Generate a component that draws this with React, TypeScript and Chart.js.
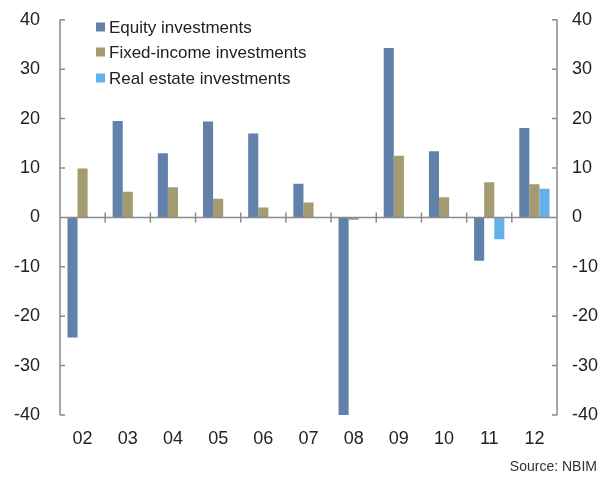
import React, { useEffect, useRef } from "react";
import { Chart, registerables } from "chart.js";

Chart.register(...registerables);

const years = ["02", "03", "04", "05", "06", "07", "08", "09", "10", "11", "12"];
const equity = [-24.3, 19.5, 13.0, 19.4, 17.0, 6.8, -40.7, 34.3, 13.4, -8.8, 18.1];
const fixedIncome = [9.9, 5.2, 6.1, 3.8, 2.0, 3.0, -0.5, 12.5, 4.1, 7.1, 6.7];
const realEstate: (number | null)[] = [null, null, null, null, null, null, null, null, null, -4.4, 5.8];
const seriesNames = ["Equity investments", "Fixed-income investments", "Real estate investments"];
const seriesColors = ["#6281AA", "#A59B70", "#63B1EA"];
const sourceText = "Source: NBIM";

const FONT = "'Liberation Sans', Arial, sans-serif";
const AXIS = "#8a8a8a";
const SHIFT = 11;

const axesPlugin = {
  id: "customAxes",
  afterDatasetsDraw(chart: any) {
    const { ctx, chartArea } = chart;
    const { left, right, top, bottom } = chartArea;
    const y = chart.scales.y;
    ctx.save();
    ctx.strokeStyle = AXIS;
    ctx.lineWidth = 1.5;
    ctx.beginPath();
    ctx.moveTo(left, top);
    ctx.lineTo(left, bottom);
    ctx.moveTo(right, top);
    ctx.lineTo(right, bottom);
    for (let v = -40; v <= 40; v += 10) {
      const py = y.getPixelForValue(v);
      ctx.moveTo(left, py);
      ctx.lineTo(left + 5, py);
      ctx.moveTo(right - 5, py);
      ctx.lineTo(right, py);
    }
    const y0 = y.getPixelForValue(0);
    ctx.moveTo(left, y0);
    ctx.lineTo(right, y0);
    const n = years.length;
    const w = (right - left) / n;
    for (let i = 1; i < n; i++) {
      const px = left + i * w;
      ctx.moveTo(px, y0 - 5);
      ctx.lineTo(px, y0 + 5);
    }
    ctx.stroke();

    // legend
    ctx.font = `17px ${FONT}`;
    ctx.textBaseline = "middle";
    ctx.textAlign = "left";
    const ly = [27, 52, 78];
    seriesNames.forEach((name, i) => {
      ctx.fillStyle = seriesColors[i];
      ctx.fillRect(96, ly[i] + SHIFT - 4.5, 9, 9);
      ctx.fillStyle = "#222";
      ctx.fillText(name, 109, ly[i] + SHIFT + 1);
    });

    // source
    ctx.font = `14px ${FONT}`;
    ctx.textAlign = "right";
    ctx.fillStyle = "#333";
    ctx.fillText(sourceText, 597, 467 + SHIFT);
    ctx.restore();
  },
};

export default function App() {
  const ref = useRef<HTMLCanvasElement>(null);
  useEffect(() => {
    if (!ref.current) return;
    const tickFont = { family: FONT, size: 18 };
    const chart = new Chart(ref.current, {
      type: "bar",
      data: {
        labels: years,
        datasets: [
          { label: seriesNames[0], data: equity, backgroundColor: seriesColors[0], yAxisID: "y" },
          { label: seriesNames[1], data: fixedIncome, backgroundColor: seriesColors[1], yAxisID: "y" },
          { label: seriesNames[2], data: realEstate, backgroundColor: seriesColors[2], yAxisID: "y" },
        ],
      },
      options: {
        animation: false,
        responsive: false,
        maintainAspectRatio: false,
        layout: { padding: { top: 0, left: 0, right: 0, bottom: 0 } },
        plugins: { legend: { display: false }, tooltip: { enabled: false } },
        datasets: { bar: { categoryPercentage: 0.67, barPercentage: 1 } },
        scales: {
          x: {
            grid: { display: false, drawTicks: false },
            border: { display: false },
            ticks: { font: tickFont, color: "#222", padding: 13 },
            afterFit: (s: any) => { s.height = 64; },
          },
          y: {
            position: "left",
            min: -40,
            max: 40,
            grid: { display: false, drawTicks: false },
            border: { display: false },
            ticks: { stepSize: 10, font: tickFont, color: "#222", padding: 20 },
            afterFit: (s: any) => { s.width = 60; },
          },
          y2: {
            position: "right",
            min: -40,
            max: 40,
            grid: { display: false, drawTicks: false },
            border: { display: false },
            ticks: { stepSize: 10, font: tickFont, color: "#222", padding: 15 },
            afterFit: (s: any) => { s.width = 53; },
          },
        },
      },
      plugins: [axesPlugin],
    });
    return () => chart.destroy();
  }, []);
  return (
    <div style={{ position: "fixed", left: 0, top: 0, width: 610, height: 479, overflow: "hidden", background: "#fff" }}>
      <canvas
        ref={ref}
        width={610}
        height={479 + SHIFT}
        style={{ position: "absolute", left: 0, top: -SHIFT, width: 610, height: 479 + SHIFT }}
      />
    </div>
  );
}
